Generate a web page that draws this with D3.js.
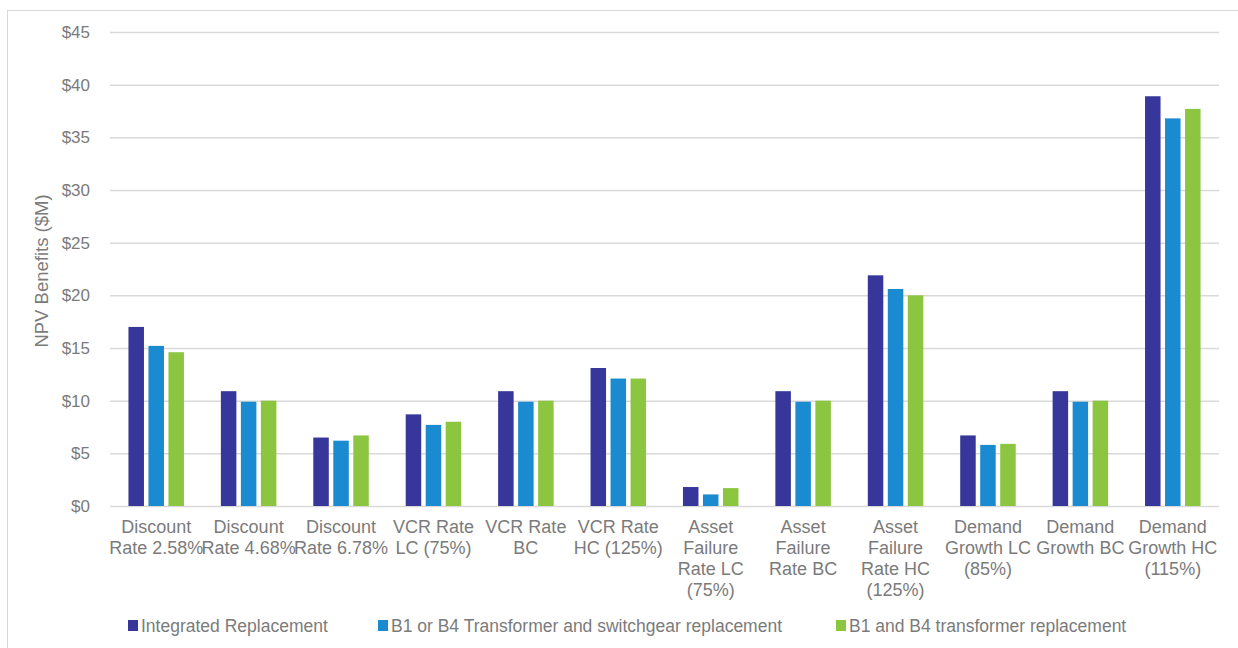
<!DOCTYPE html>
<html><head><meta charset="utf-8">
<script src="https://cdn.jsdelivr.net/npm/d3@7"></script>
<style>body{margin:0;background:#fff}svg{display:block}text{font-family:"Liberation Sans",Arial,sans-serif}</style>
</head><body><svg id="c" width="1238" height="648"></svg>
<script>
const categories = ["Discount\nRate 2.58%","Discount\nRate 4.68%","Discount\nRate 6.78%","VCR Rate\nLC (75%)","VCR Rate\nBC","VCR Rate\nHC (125%)","Asset\nFailure\nRate LC\n(75%)","Asset\nFailure\nRate BC","Asset\nFailure\nRate HC\n(125%)","Demand\nGrowth LC\n(85%)","Demand\nGrowth BC","Demand\nGrowth HC\n(115%)"];
const seriesNames = ["Integrated Replacement","B1 or B4 Transformer and switchgear replacement","B1 and B4 transformer replacement"];
const integrated = [17.0, 10.9, 6.5, 8.7, 10.9, 13.1, 1.8, 10.9, 21.9, 6.7, 10.9, 38.9];
const b1orb4 = [15.2, 9.9, 6.2, 7.7, 9.9, 12.1, 1.1, 9.9, 20.6, 5.8, 9.9, 36.8];
const b1andb4 = [14.6, 10.0, 6.7, 8.0, 10.0, 12.1, 1.7, 10.0, 20.0, 5.9, 10.0, 37.7];
const yTicks = [0,5,10,15,20,25,30,35,40,45];
const colors = ["#37369a","#1a8bd0","#8cc540"];

const svg = d3.select("#c");
const gray = "#7b7b7b";
// outer border
svg.append("rect").attr("x",7.5).attr("y",10.5).attr("width",1240).attr("height",650)
  .attr("fill","none").attr("stroke","#d9d9d9").attr("stroke-width",1);

const x0 = 110, x1 = 1219, yTop = 32, yBot = 506;
const y = d3.scaleLinear().domain([0,45]).range([yBot,yTop]);
const x = d3.scaleBand().domain(d3.range(categories.length)).range([x0,x1]);
const barW = 15.5, gap = 4.5;
const xs = d3.scaleBand().domain([0,1,2]).range([0, 3*barW+2*gap]).paddingInner(gap/(barW+gap));

// grid
const yAxis = d3.axisLeft(y).tickValues(yTicks).tickSize(-(x1-x0)).tickFormat(d=>"$"+d).tickPadding(20);
const ga = svg.append("g").attr("transform",`translate(${x0},0)`).call(yAxis);
ga.select(".domain").remove();
ga.selectAll(".tick line").attr("stroke","#d9d9d9").attr("stroke-width",1.5);
ga.selectAll(".tick text").attr("fill",gray).attr("font-size",17).attr("font-family","Liberation Sans, Arial, sans-serif");

const data = [integrated,b1orb4,b1andb4];
const groups = svg.append("g");
data.forEach((vals,si)=>{
  groups.selectAll(null).data(vals).enter().append("rect")
    .attr("x",(d,i)=>x(i)+x.bandwidth()/2-(3*barW+2*gap)/2+xs(si))
    .attr("width",xs.bandwidth())
    .attr("y",d=>y(d)).attr("height",d=>y(0)-y(d))
    .attr("fill",colors[si]);
});

// x labels
const lab = svg.append("g");
categories.forEach((c,i)=>{
  const t = lab.append("text").attr("x",x(i)+x.bandwidth()/2).attr("y",533)
    .attr("text-anchor","middle").attr("fill",gray).attr("font-size",18);
  c.split("\n").forEach((ln,k)=>{
    t.append("tspan").attr("x",x(i)+x.bandwidth()/2).attr("dy",k===0?0:21).text(ln);
  });
});

// y title
svg.append("text").attr("transform","translate(48,271) rotate(-90)").attr("text-anchor","middle")
  .attr("fill",gray).attr("font-size",18.5).text("NPV Benefits ($M)");

// legend
const legX = [128,378,836];
seriesNames.forEach((n,i)=>{
  svg.append("rect").attr("x",legX[i]).attr("y",620).attr("width",10).attr("height",11).attr("fill",colors[i]);
  svg.append("text").attr("x",legX[i]+13).attr("y",632).attr("fill",gray).attr("font-size",17.5).text(n);
});
</script></body></html>
